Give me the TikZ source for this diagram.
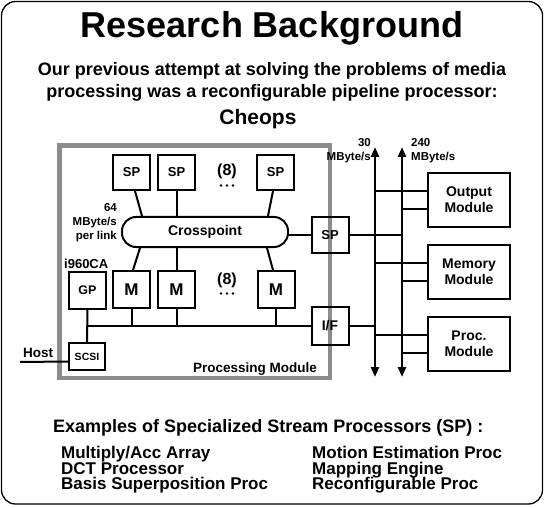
\documentclass[tikz,border=0pt]{standalone}
\usepackage{fontspec}
\setmainfont{Liberation Sans}
\usetikzlibrary{arrows.meta, positioning}

\newcommand{\fsz}[2]{\fontsize{#1}{#2}\bfseries\selectfont\lineskiplimit=-20pt}

\begin{document}
\begin{tikzpicture}[x=1pt, y=-1pt,
    box/.style={draw, line width=2pt, minimum width=37pt, minimum height=37pt, inner sep=0pt, font=\fsz{13}{15}},
    module/.style={draw, line width=2pt, minimum width=82pt, minimum height=54pt, inner sep=0pt, align=center, font=\fsz{14}{16}},
    wire/.style={line width=2pt},
    bus/.style={line width=2.6pt, {Triangle[length=10pt,width=8pt]}-{Triangle[length=10pt,width=8pt]}},
    lbl/.style={inner sep=0pt, font=\fsz{11.5}{14}}]
    \useasboundingbox (0,0) rectangle (544,508);
    \draw[line width=1.3pt, rounded corners=14pt] (1.5,1.5) rectangle (542.5,504);

    % heading
    \node[anchor=base, inner sep=0pt, font=\fsz{36}{40}] (title) at (272,38) {Research Background};
    \node[anchor=north, inner sep=0pt, align=center, font=\fsz{18}{22}] (intro) at (272,62)
        {Our previous attempt at solving the problems of media\\processing was a reconfigurable pipeline processor:};
    \node[anchor=base, inner sep=0pt, font=\fsz{21}{24}] (cheops) at (258,125) {Cheops};

    % processing module
    \draw[draw=black!45, line width=4.5pt] (59.5,145.5) rectangle (330,378);
    \node[lbl, anchor=base east, font=\fsz{13.5}{15}] (pmlabel) at (317,372) {Processing Module};

    \foreach \n/\x in {sp1/131.5, sp2/176.5, sp3/275.5}
        \node[box, minimum height=35pt] (\n) at (\x,172.5) {SP};
    \foreach \n/\x in {m1/131.5, m2/176.5, m3/276}
        \node[box, font=\fsz{17}{19}] (\n) at (\x,289.5) {M};
    \node[lbl, anchor=base, font=\fsz{16}{18}] (many1) at (227,176) {(8)};
    \node[lbl, anchor=base, font=\fsz{16}{18}] (many2) at (227,284) {(8)};
    \foreach \n in {many1, many2}
        \foreach \d in {-6,0,6}
            \fill ([xshift=\d pt, yshift=-6pt]\n.south) circle (1.4pt);

    \node[draw, line width=2pt, rounded corners=14pt, minimum width=166pt, minimum height=30pt,
        inner sep=0pt, font=\fsz{14}{16}] (cross) at (205,232) {Crosspoint};
    \node[lbl, anchor=east, align=right] (rate) at (117,223) {64\\MByte/s\\per link};

    \node[box, font=\fsz{12.5}{14}] (gp) at (87.5,290) {GP};
    \node[lbl, anchor=base west, font=\fsz{13}{15}] (cpu) at (64,268) {i960CA};
    \node[box, minimum width=36pt, minimum height=27pt, font=\fsz{10.5}{12}] (scsi) at (87,356.5) {SCSI};
    \node[lbl, anchor=base west, font=\fsz{13.5}{15}] (host) at (23,357) {Host};
    \coordinate (hostend) at (20,362);

    \node[box, minimum height=36pt] (spr) at (330,235) {SP};
    \node[box, minimum height=38pt, font=\fsz{14}{16}] (io) at (330,326) {I/F};

    % links to the crosspoint
    \draw[wire] ([xshift=3.5pt]sp1.south) -- ([xshift=-63pt]cross.north);
    \draw[wire] (sp2.south) -- (sp2.south |- cross.north);
    \draw[wire] ([xshift=-2.5pt]sp3.south) -- ([xshift=63pt]cross.north);
    \draw[wire] ([xshift=1.5pt]m1.north) -- ([xshift=-65pt]cross.south);
    \draw[wire] (m2.north) -- (m2.north |- cross.south);
    \draw[wire] ([xshift=-3pt]m3.north) -- ([xshift=62pt]cross.south);
    \draw[wire] (spr.west -| cross.east) -- (spr.west);

    % local bus
    \draw[wire] (gp.south) -- (scsi.north);
    \draw[wire] (gp.south |- io.west) -- (io.west);
    \foreach \n in {m1, m2, m3}
        \draw[wire] (\n.south) -- (\n.south |- io.west);
    \draw[wire] ([yshift=-5pt]scsi.west) -- (hostend);

    % system buses
    \coordinate (slowtop) at (375,147);
    \coordinate (slowbot) at (375,377);
    \coordinate (fasttop) at (402,147);
    \coordinate (fastbot) at (402,377);
    \draw[bus] (slowtop) -- (slowbot);
    \draw[bus] (fasttop) -- (fastbot);
    \node[lbl, anchor=south east, align=right] (slowrate) at (371,163) {30\\MByte/s};
    \node[lbl, anchor=south west, align=left] (fastrate) at (411,163) {240\\MByte/s};

    \draw[wire] (spr.east) -- (spr.east -| fasttop);
    \draw[wire] (io.east) -- (io.east -| slowtop);

    \node[module] (out) at (469,200) {Output\\Module};
    \node[module] (mem) at (469,271.5) {Memory\\Module};
    \node[module] (proc) at (469,343.5) {Proc.\\Module};
    \foreach \n in {out, mem, proc} {
        \draw[wire] ([yshift=-9pt]\n.west) -- ([yshift=-9pt]\n.west -| fasttop);
        \draw[wire] ([yshift=9pt]\n.west) -- ([yshift=9pt]\n.west -| slowtop);
    }

    % examples
    \node[anchor=base west, inner sep=0pt, font=\fsz{18}{20}] (examples) at (53,432)
        {Examples of Specialized Stream Processors (SP) :};
    \node[anchor=north west, inner sep=0pt, align=left, font=\fsz{17}{15.5}] (col1) at (61,446)
        {Multiply/Acc Array\\DCT Processor\\Basis Superposition Proc};
    \node[anchor=north west, inner sep=0pt, align=left, font=\fsz{17}{15.5}] (col2) at (312,446)
        {Motion Estimation Proc\\Mapping Engine\\Reconfigurable Proc};
\end{tikzpicture}
\end{document}
